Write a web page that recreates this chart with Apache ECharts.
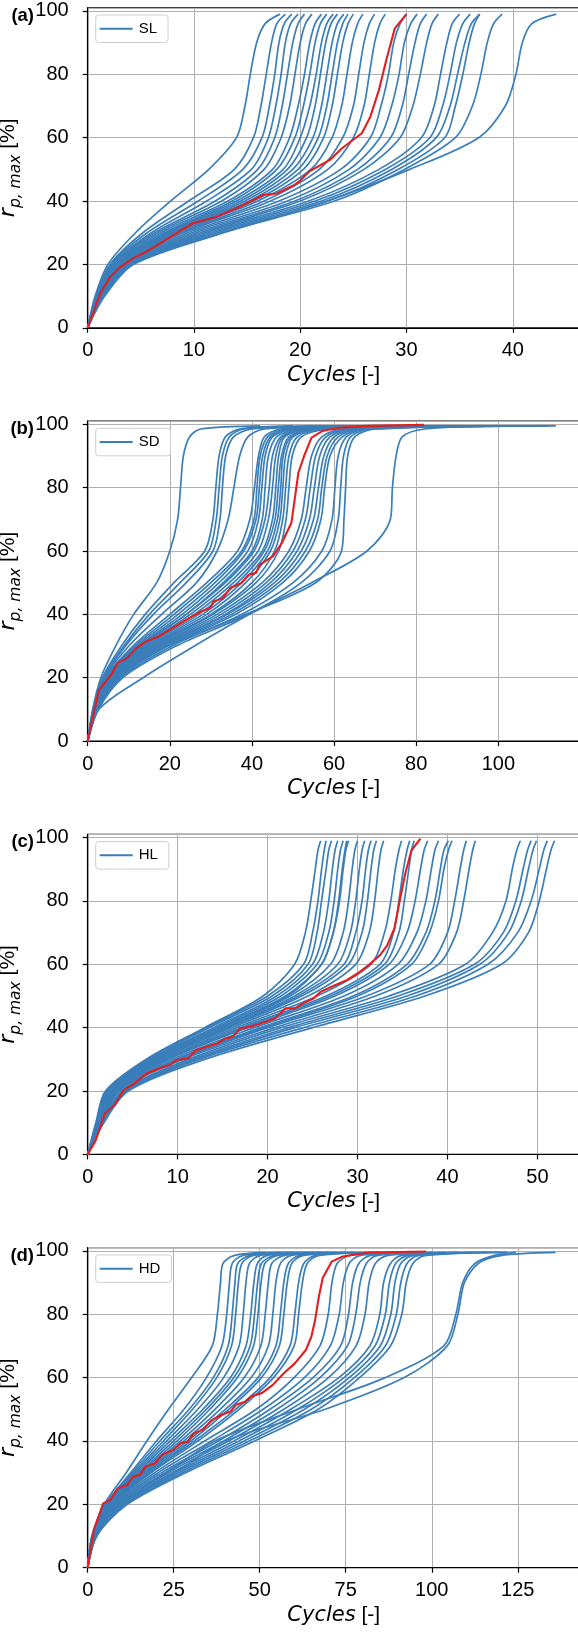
<!DOCTYPE html>
<html><head><meta charset="utf-8">
<script src="https://cdn.jsdelivr.net/npm/echarts@6/dist/echarts.min.js"></script>
<style>html,body{margin:0;padding:0;background:#fff;} #c{width:578px;height:1634px;}</style>
</head><body><div id="c"></div>
<script>
// ---------- DATA ----------
// Each blue curve is given as the cycle count at which it reaches each level of r_p,max [%]
const LEVELS_A = [0,10,20,30,40,50,60,70,80,90,96,99];
const CYCLES_A = [
 [0,0.7,1.9,4.5,7.8,11.4,14.0,14.8,15.3,15.9,16.7,18.1],
 [0,0.8,2.1,5.2,9.5,13.8,15.6,16.3,16.8,17.3,17.8,18.6],
 [0,0.8,2.2,5.6,10.4,14.6,16.4,17.1,17.6,18.0,18.5,19.2],
 [0,0.8,2.3,6.0,11.2,15.4,17.0,17.7,18.2,18.6,19.1,19.8],
 [0,0.9,2.4,6.3,12.0,16.0,17.6,18.3,18.8,19.3,19.8,20.4],
 [0,0.9,2.5,6.6,12.6,16.6,18.2,19.0,19.5,20.0,20.5,21.1],
 [0,0.9,2.6,6.9,13.2,17.4,19.0,19.8,20.4,20.9,21.4,22.0],
 [0,1.0,2.7,7.2,13.6,17.8,19.5,20.3,20.9,21.4,21.9,22.5],
 [0,1.0,2.8,7.4,14.0,18.4,20.0,20.9,21.5,22.0,22.5,23.1],
 [0,1.0,2.8,7.6,14.4,18.8,20.6,21.4,21.9,22.4,22.9,23.5],
 [0,1.0,2.9,7.8,14.8,19.3,21.2,22.0,22.5,23.0,23.5,24.1],
 [0,1.0,3.0,8.0,15.2,19.8,21.7,22.5,23.0,23.5,24.0,24.5],
 [0,1.1,3.0,8.2,15.6,20.3,22.2,23.0,23.5,24.0,24.5,25.0],
 [0,1.1,3.1,8.4,16.0,21.0,23.0,23.9,24.4,24.9,25.4,25.9],
 [0,1.1,3.2,8.7,16.6,21.8,24.0,25.0,25.5,26.0,26.5,27.0],
 [0,1.2,3.3,9.0,17.2,22.6,25.0,26.0,26.5,27.0,27.5,28.0],
 [0,1.2,3.4,9.4,18.0,23.8,26.6,27.6,28.3,28.8,29.4,30.0],
 [0,1.2,3.5,9.8,18.8,24.6,27.5,28.6,29.3,29.8,30.4,31.0],
 [0,1.3,3.6,10.2,19.5,25.4,28.5,29.6,30.2,30.8,31.3,31.9],
 [0,1.3,3.7,10.6,20.0,26.0,29.4,30.6,31.3,31.9,32.4,33.0],
 [0,1.3,3.8,11.0,20.8,27.4,31.4,32.6,33.2,33.8,34.3,35.0],
 [0,1.4,3.9,11.4,21.4,28.0,32.2,33.4,34.1,34.7,35.3,36.0],
 [0,1.4,4.0,11.8,22.0,28.6,32.8,34.1,34.8,35.5,36.1,36.9],
 [0,1.4,4.1,12.2,22.6,29.2,33.6,34.6,35.3,35.9,36.4,36.9],
 [0,1.5,4.2,12.6,23.2,29.8,34.6,36.2,37.0,37.6,38.2,39.0],
 [0,1.6,4.3,12.8,22.5,30.3,36.8,39.3,40.3,40.9,41.8,44.1]
];
const RED_A = [[0,0],[1.2,11],[2.1,16],[3,19],[4.3,22],[5.5,24],[6.5,26],[8.1,29.3],[9.9,33],[12.1,35],[14.3,38.2],[16.5,41.9],[17.8,42.4],[19.4,45],[20,46.5],[20.9,49.5],[22.8,53],[23.9,56.6],[25.8,61.4],[26.6,66.6],[27.4,75],[28.1,84.5],[28.9,94.5],[30,99]];

const LEVELS_B = [0,10,20,30,40,50,60,70,80,90,96,98.5,99.5];
const CYCLES_B = [
 [0,1.2,3.2,6.8,11.2,16.8,20.0,21.9,22.6,23.3,24.8,27.5,42],
 [0,1.3,3.6,8.2,14,21,28.5,30.5,31.2,32,33.5,37,50],
 [0,1.4,3.8,8.8,15,22.5,29.5,31.3,32.0,32.8,34.5,38,55],
 [0,1.4,4.0,9.2,16,24,30.5,32.2,32.8,33.6,35.5,40,58],
 [0,1.5,4.2,10,18,26.5,31.5,34.2,35.6,37,39,43,62],
 [0,1.5,4.4,11,20,29,36.5,39.5,40.6,41.6,43,47,64],
 [0,1.6,4.5,11.5,21,30,37.5,40.5,41.2,42,43.8,48,66],
 [0,1.6,4.6,12,22,31,38,41,41.8,42.6,44.5,49,68],
 [0,1.7,4.8,12.5,23,32,39,41.6,42.4,43.2,45,50,70],
 [0,1.7,5.0,13,24,33,40,42.5,43.2,44,46,51,72],
 [0,1.8,5.0,13,24,33.5,40.5,43.2,44.2,45,47,52,74],
 [0,1.8,5.2,13.5,25,34.5,41.5,44,45,45.8,47.5,53,76],
 [0,1.8,5.4,14,26,35.5,42.5,45,45.8,46.5,48,54,78],
 [0,1.9,5.6,14.5,27,36.5,43,45.6,46.4,47.2,49,55,80],
 [0,1.9,5.8,15,28,37.5,43.8,46.2,47,47.6,49.5,56,82],
 [0,2.0,6.0,15.5,29,38.5,44.5,46.8,47.5,48.2,50,57,85],
 [0,2.0,6.2,16,30,40,45.5,47.5,48.2,49,51,58,88],
 [0,2.1,6.4,16.5,30.5,41,46.5,48.3,49,49.8,52,59,90],
 [0,2.1,6.6,17,31.5,42.5,49,52,53.2,54.5,57,62,92],
 [0,2.2,6.8,17.5,32.5,43.5,50,53,54.2,55.5,58,63,95],
 [0,2.2,7.0,18,33.5,44.5,51,54,55.2,56.5,59,64,98],
 [0,2.3,7.2,18.5,34,45.5,52,55,56.2,57.5,60,65,100],
 [0,2.3,7.4,19,35,46.5,53,56,57,58.3,61,66,104],
 [0,2.4,7.6,19.5,36,47.5,54,56.8,57.7,59,62,67,108],
 [0,2.5,8,20.5,37.5,50,57,59.5,60.2,61,63,68,110],
 [0,2.6,8.5,21.5,39,52,59,61,61.6,62.3,64,69,112],
 [0,2.0,5.5,19.5,38.5,55.5,61.8,62.4,62.8,63.3,65,70,114],
 [0,2.7,13.5,26,39.4,54.5,68,73.7,74.2,75.1,76.6,82,100]
];
const RED_B = [[0,0],[1.1,6.6],[2.7,16],[4.7,19.3],[6,21.4],[7.2,24.6],[9.6,26.2],[11.8,29.3],[14.1,31.4],[17.2,33],[19.9,35.1],[22.6,37.2],[25.3,39.3],[27.6,40.9],[29.8,42],[30.7,44.1],[32.9,45.1],[34.7,48.3],[37.4,49.9],[39.2,52.5],[41,53.1],[41.9,55.7],[45.1,58.3],[47.3,62.6],[49.6,68.9],[50.4,76.3],[51.3,84.7],[52.7,90],[54.5,95.8],[57.2,97.9],[61.2,98.9],[68.4,99.5],[81.9,99.8]];

const LEVELS_C = [0,10,20,30,40,50,60,70,80,90,96,99];
const CYCLES_C = [
 [0,1.0,2.0,6.5,13,19.5,23,24.2,24.8,25.3,25.6,25.9],
 [0,0.9,2.0,6.6,13.2,20,24,25,25.6,26,26.3,26.5],
 [0,1.0,2.1,6.8,13.5,20.5,24.5,25.5,26.0,26.5,26.8,27.1],
 [0,1.0,2.2,7.0,14,21,25,26.2,26.8,27.2,27.5,27.8],
 [0,1.1,2.2,7.2,14.3,21.5,25.5,26.8,27.4,27.8,28.1,28.4],
 [0,1.1,2.3,7.4,14.8,22.2,26,27.3,27.9,28.3,28.6,28.8],
 [0,1.1,2.3,7.3,14.6,22,26,27.3,28,28.4,28.7,29.0],
 [0,1.1,2.4,7.5,15,22.5,27,28.4,29,29.4,29.7,30.0],
 [0,1.1,2.4,7.7,15.3,23,27.8,29.2,29.8,30.2,30.5,30.8],
 [0,1.2,2.5,7.8,15.5,23.4,28.5,29.8,30.5,30.9,31.2,31.5],
 [0,1.2,2.5,7.9,15.6,23.8,29,30.5,31.1,31.5,31.8,32.1],
 [0,1.2,2.6,8.1,16,24.5,29.8,31.3,31.9,32.3,32.6,32.9],
 [0,1.2,2.7,8.4,16.5,25.5,31.5,33,33.7,34.2,34.6,34.9],
 [0,1.3,2.8,8.6,17,26.5,32.5,34,34.6,35.1,35.5,35.8],
 [0,1.3,2.9,8.8,17.4,27,33,34.6,35.2,35.7,36,36.3],
 [0,1.3,3.0,9.0,17.8,27.5,33.5,35.5,36.4,37,37.4,37.8],
 [0,1.3,3.1,9.4,18.5,28.5,34.5,36.6,37.6,38.2,38.6,39.0],
 [0,1.4,3.2,9.8,19.2,29.5,35.5,37.6,38.6,39.2,39.6,40.1],
 [0,1.4,3.3,10,19.6,30,36,38,39,39.6,40.1,40.5],
 [0,1.4,3.4,10.3,20,31,38,40,40.8,41.4,41.8,42.1],
 [0,1.5,3.5,10.6,20.8,32,39,41,41.8,42.4,42.8,43.1],
 [0,1.5,3.8,11.2,21.5,33.5,42,45,46.5,47.2,47.7,48.1],
 [0,1.6,4.0,11.6,22.3,34.5,43,46.2,47.6,48.4,48.9,49.3],
 [0,1.6,4.1,12,23,35.5,43.6,46.8,48.2,49,49.5,49.9],
 [0,1.7,4.3,12.4,24,36.5,44.5,47.8,49.3,50.2,50.7,51.1],
 [0,1.8,4.5,13,25,37.5,46,49,50.2,51,51.5,51.9]
];
const RED_C = [[0,0],[0.9,4.5],[1.9,12.9],[3,15.6],[4,20.3],[5.2,22.4],[6.6,25.6],[7.9,27.1],[9.1,28.2],[9.9,29.8],[11.2,30.3],[12,32.9],[13.2,34],[14.4,35],[15.3,36.6],[16.1,37.1],[16.9,39.7],[18.1,40.3],[19.8,41.9],[20.8,42.9],[22,46.1],[23,46.1],[24.3,48.2],[25.1,49.2],[25.9,51.3],[27.1,52.9],[28.8,55],[30,57.1],[31.2,59.7],[32.5,62.9],[33.3,66],[34.1,71.3],[34.7,80.2],[35.3,88.6],[36,96],[37,99.7]];

const LEVELS_D = [0,10,20,30,40,50,60,70,80,90,96,98.5,99.5];
const CYCLES_D = [
 [0,1.2,4.8,11.2,17.2,23.5,30.2,36.2,37.7,38.6,39.3,42.5,51.6],
 [0,1.3,5.2,12.5,20,28,34.5,39,40.4,41.2,42,45,56],
 [0,1.3,5.4,13,21,29.5,36.5,40.8,42,42.8,43.6,47,58],
 [0,1.4,5.6,13.5,22,30.5,37.5,41.8,43,43.8,44.8,48,60],
 [0,1.4,5.8,14,23,32,39.5,44,45.2,46,47,50,62],
 [0,1.5,6,14.5,24,33.5,41.5,46,47.4,48.3,49.3,52,64],
 [0,1.5,6.1,15,25,34.5,42.5,47.2,48.5,49.4,50.5,54,66],
 [0,1.5,6.2,15.5,26,35.5,43.5,48.2,49.5,50.4,51.5,55,68],
 [0,1.6,6.4,16,27,37,45.5,50.3,51.6,52.5,53.5,57,70],
 [0,1.6,6.6,16.5,28,38.5,47.5,52.5,53.8,54.7,56,59,72],
 [0,1.7,6.8,17,29,40,49.5,54.7,56,57,58.3,61.5,75],
 [0,1.7,7,17.5,30,41,50.5,55.7,57,58,59.3,62.5,78],
 [0,1.8,7.2,18,31,43,53,58.8,60.2,61.3,62.8,66,82],
 [0,1.8,7.4,18.5,32,44,54,60,61.3,62.4,63.8,67,85],
 [0,1.9,7.8,19.5,34,49,60,67.5,69.9,71,72.5,76,90],
 [0,2.0,8.2,20.5,36,51,63,70.5,73.1,74.3,76,79,95],
 [0,2.0,8.6,21.5,38,53,65.5,73.5,75.8,77,78.8,82,98],
 [0,2.1,9,22.5,39.5,55,67.5,75.5,77.9,79.2,81,84,100],
 [0,2.2,9.4,23.5,41,57,70,78,80.6,81.8,83.6,87,104],
 [0,2.3,9.8,24.5,42.5,59,73,82,84.9,86,88,91,108],
 [0,2.3,10.2,25.5,44,61,74.5,83.5,86.5,87.7,89.5,93,112],
 [0,2.4,10.6,26.5,45.5,63,76,85,88.1,89.3,91,94.5,116],
 [0,2.5,11,27.5,47,65,77.5,86.5,89.7,91,92.8,96,120],
 [0,2.6,11.5,28.5,48.5,67,79,88,91.3,92.6,94.5,98,122],
 [0,2.5,9.5,23,37,61,86.5,103.5,107,109,112.5,118,124.5],
 [0,2.6,10,25.5,40,69,92,104.5,107.6,109.5,113.5,120,136]
];
const RED_D = [[0,0],[1.8,11.9],[4.5,20.3],[6.6,21.4],[8.8,25.1],[11.5,26.1],[13.1,28.7],[15.2,29.3],[16.8,31.9],[19.5,32.9],[21.6,35.6],[24.9,37.2],[27,39.3],[29.1,39.8],[30.8,42.4],[33.4,43.5],[36.1,46.6],[38.8,48.2],[41.5,49.3],[43.1,51.4],[45.8,52.4],[47.4,54],[50.6,55.1],[53.8,57.7],[57,61.4],[60.2,64.5],[63.4,68.7],[65,72.9],[66.1,78.2],[67.2,85.6],[68.3,91.4],[70.9,96.6],[74.1,98.2],[81.6,99.5],[98.3,99.8]];

const NAMES = ['SL','SD','HL','HD'];
const PANEL_LABELS = ['(a)','(b)','(c)','(d)'];
const X_MAX = [46.3, 119.8, 54.7, 143.0];
const X_INTERVAL = [10, 20, 10, 25];

// ---------- CHART ----------
const BLUE = '#3a7eba';
const RED = '#e41e1e';
const TOPS = [7.8, 421.1, 834.4, 1247.7];
const TICK_FS = 20;
const panels = [
  {levels: LEVELS_A, curves: CYCLES_A, red: RED_A},
  {levels: LEVELS_B, curves: CYCLES_B, red: RED_B},
  {levels: LEVELS_C, curves: CYCLES_C, red: RED_C},
  {levels: LEVELS_D, curves: CYCLES_D, red: RED_D}
];

const grids = [], xAxes = [], yAxes = [], series = [], legends = [], graphics = [];
panels.forEach((p, i) => {
  grids.push({left: 87.7, top: TOPS[i], width: 492, height: 320, show: true,
    borderColor: '#000', borderWidth: 1.2, backgroundColor: 'transparent',
    containLabel: false, outerBoundsMode: 'none'});
  xAxes.push({gridIndex: i, type: 'value', min: 0, max: X_MAX[i], interval: X_INTERVAL[i],
    axisLine: {show: true, onZero: false, lineStyle: {color: '#000', width: 1.2}},
    axisTick: {show: true, length: 5, lineStyle: {color: '#000', width: 1.2}},
    axisLabel: {fontSize: TICK_FS, color: '#000', fontFamily: 'Liberation Sans', margin: 13, showMaxLabel: false},
    splitLine: {show: true, lineStyle: {color: '#b0b0b0', width: 1}},
    name: '{i|Cycles}{n| [-]}', nameLocation: 'middle', nameGap: 37,
    nameTextStyle: {fontSize: 21, color: '#000', fontFamily: 'Liberation Sans',
      rich: {i: {fontStyle: 'italic', fontSize: 21, fontFamily: 'DejaVu Sans', color: '#000'},
             n: {fontSize: 21, fontFamily: 'Liberation Sans', color: '#000'}}}
  });
  yAxes.push({gridIndex: i, type: 'value', min: 0, max: 101, interval: 20,
    axisLine: {show: true, onZero: false, lineStyle: {color: '#000', width: 1.2}},
    axisTick: {show: true, length: 5, lineStyle: {color: '#000', width: 1.2}},
    axisLabel: {fontSize: TICK_FS, color: '#000', fontFamily: 'Liberation Sans', margin: 19, showMaxLabel: false},
    splitLine: {show: true, lineStyle: {color: '#b0b0b0', width: 1}},
    name: '{i|r}{s|p, max}{n| [%]}', nameLocation: 'middle', nameRotate: 90, nameGap: 46,
    nameTextStyle: {fontSize: 21, color: '#000', fontFamily: 'Liberation Sans',
      rich: {i: {fontStyle: 'italic', fontSize: 22, fontFamily: 'DejaVu Sans', color: '#000', lineHeight: 32},
             s: {fontStyle: 'italic', fontSize: 15.5, fontFamily: 'DejaVu Sans', color: '#000', lineHeight: 15, verticalAlign: 'bottom'},
             n: {fontSize: 21, fontFamily: 'Liberation Sans', color: '#000', lineHeight: 32}}}
  });
  p.curves.forEach(row => {
    series.push({type: 'line', name: NAMES[i], xAxisIndex: i, yAxisIndex: i,
      data: row.map((x, j) => [x, p.levels[j]]),
      symbol: 'none', smooth: 0.3, silent: true, animation: false, z: 2,
      lineStyle: {color: BLUE, width: 1.7}, itemStyle: {color: BLUE}});
  });
  series.push({type: 'line', name: NAMES[i] + ' mean', xAxisIndex: i, yAxisIndex: i,
    data: p.red, symbol: 'none', smooth: false, silent: true, animation: false, z: 3,
    lineStyle: {color: RED, width: 2.1}, itemStyle: {color: RED}});
  legends.push({data: [{name: NAMES[i], icon: 'rect'}], left: 95.7, top: TOPS[i] + 7.2, orient: 'vertical',
    padding: [6, 11, 6, 4], itemWidth: 33, itemHeight: 2, itemGap: 0,
    borderColor: '#cfcfcf', borderWidth: 1, borderRadius: 3, backgroundColor: 'rgba(255,255,255,0.85)',
    textStyle: {fontSize: 15, color: '#000', fontFamily: 'Liberation Sans', lineHeight: 15.5, padding: [0, 0, 0, 1]},
    selectedMode: false});
  graphics.push({type: 'text', x: 34, y: TOPS[i] + 8, z: 100,
    style: {text: PANEL_LABELS[i], font: 'bold 18.5px "Liberation Sans"', fill: '#000', align: 'right', verticalAlign: 'middle'}});
});

const chart = echarts.init(document.getElementById('c'), null, {renderer: 'canvas', width: 578, height: 1634});
chart.setOption({
  animation: false,
  backgroundColor: '#fff',
  grid: grids, xAxis: xAxes, yAxis: yAxes, series: series, legend: legends, graphic: graphics
});
</script></body></html>
